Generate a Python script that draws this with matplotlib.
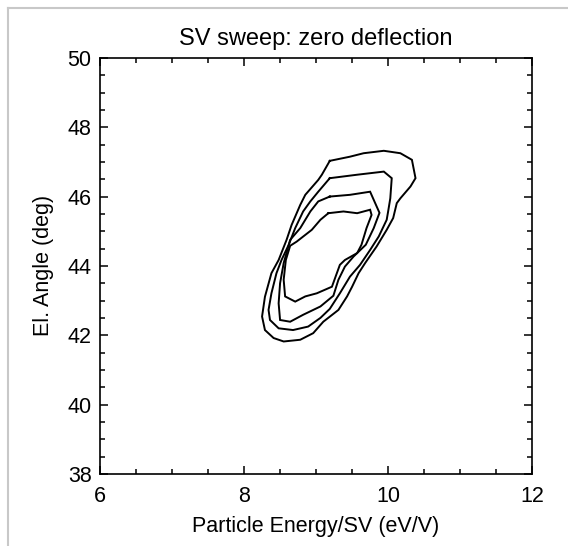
import matplotlib
matplotlib.use("Agg")
from matplotlib import pyplot as plt
from matplotlib.lines import Line2D
from matplotlib.ticker import MultipleLocator

plt.rcParams['font.family'] = ['Liberation Sans', 'DejaVu Sans']

# contour levels (outermost first), in data units
c1_x = [9.19, 9.47, 9.66, 9.94, 10.17, 10.33, 10.38, 10.31, 10.17, 10.12, 10.07, 9.98,
        9.84, 9.68, 9.59, 9.50, 9.43, 9.31, 9.10, 8.96, 8.78, 8.55, 8.41, 8.29, 8.25,
        8.29, 8.38, 8.48, 8.59, 8.66, 8.78, 8.85, 9.03, 9.08]
c1_y = [47.03, 47.15, 47.25, 47.32, 47.25, 47.06, 46.53, 46.29, 45.95, 45.81, 45.38, 45.04,
        44.56, 44.08, 43.79, 43.40, 43.12, 42.73, 42.39, 42.06, 41.87, 41.82, 41.92, 42.15, 42.54,
        43.11, 43.79, 44.17, 44.75, 45.18, 45.76, 46.05, 46.48, 46.63]

c2_x = [9.19, 9.57, 9.94, 10.05, 10.03, 10.00, 9.98, 9.87, 9.75, 9.61, 9.47, 9.33,
        9.19, 9.06, 8.89, 8.68, 8.48, 8.36, 8.34, 8.38, 8.45, 8.52, 8.62, 8.71,
        8.82, 8.92, 9.03]
c2_y = [46.53, 46.63, 46.72, 46.53, 45.95, 45.57, 45.33, 44.85, 44.46, 44.03, 43.69, 43.21,
        42.76, 42.50, 42.25, 42.15, 42.20, 42.44, 42.73, 43.21, 43.79, 44.17, 44.61, 45.09,
        45.57, 45.86, 46.14]

c3_x = [9.19, 9.47, 9.75, 9.88, 9.80, 9.69, 9.52, 9.40, 9.31, 9.24, 9.06, 8.82,
        8.64, 8.50, 8.48, 8.50, 8.55, 8.64, 8.78, 8.92, 9.03]
c3_y = [46.00, 46.05, 46.14, 45.53, 45.09, 44.61, 44.27, 43.98, 43.60, 43.14, 42.83, 42.59,
        42.39, 42.44, 42.92, 43.50, 44.08, 44.75, 45.09, 45.57, 45.86]

c4_x = [9.17, 9.38, 9.57, 9.75, 9.77, 9.70, 9.63, 9.57, 9.40, 9.33, 9.22, 9.01,
        8.85, 8.71, 8.57, 8.55, 8.58, 8.64, 8.73, 8.94, 9.06]
c4_y = [45.52, 45.57, 45.52, 45.62, 45.47, 45.09, 44.61, 44.37, 44.17, 44.03, 43.40, 43.21,
        43.12, 42.97, 43.12, 43.60, 44.17, 44.58, 44.70, 45.04, 45.33]

contours = [(c1_x, c1_y), (c2_x, c2_y), (c3_x, c3_y), (c4_x, c4_y)]

fig = plt.figure(figsize=(5.68, 5.46), dpi=100)
ax = fig.add_axes([0.176, 0.132, 0.761, 0.762])

for cx, cy in contours:
	ax.plot(cx + cx[:1], cy + cy[:1], color="black", lw=1.4, solid_joinstyle="miter")

ax.set_xlim(6, 12)
ax.set_ylim(38, 50)
ax.xaxis.set_major_locator(MultipleLocator(2))
ax.xaxis.set_minor_locator(MultipleLocator(0.5))
ax.yaxis.set_major_locator(MultipleLocator(2))
ax.yaxis.set_minor_locator(MultipleLocator(0.5))

ax.tick_params(which="both", direction="in", top=True, right=True, width=1.1, color="black")
ax.tick_params(which="major", length=6)
ax.tick_params(which="minor", length=3.5)
ax.tick_params(axis="x", which="major", pad=9, labelsize=15.5)
ax.tick_params(axis="y", which="major", pad=6, labelsize=15.5)
for s in ax.spines.values():
	s.set_linewidth(1.2)

ax.set_title("SV sweep: zero deflection", fontsize=17, pad=9)
ax.set_xlabel("Particle Energy/SV (eV/V)", fontsize=15.5, labelpad=6)
ax.set_ylabel("El. Angle (deg)", fontsize=15.5, labelpad=10)

# light grey frame of the screenshot
fig.add_artist(Line2D([8 / 568, 8 / 568], [0, 1 - 8 / 546], color="#c8c8c8", lw=1.5))
fig.add_artist(Line2D([8 / 568, 1], [1 - 8 / 546, 1 - 8 / 546], color="#c8c8c8", lw=1.5))

plt.savefig("out.png", dpi=100)
plt.close()
